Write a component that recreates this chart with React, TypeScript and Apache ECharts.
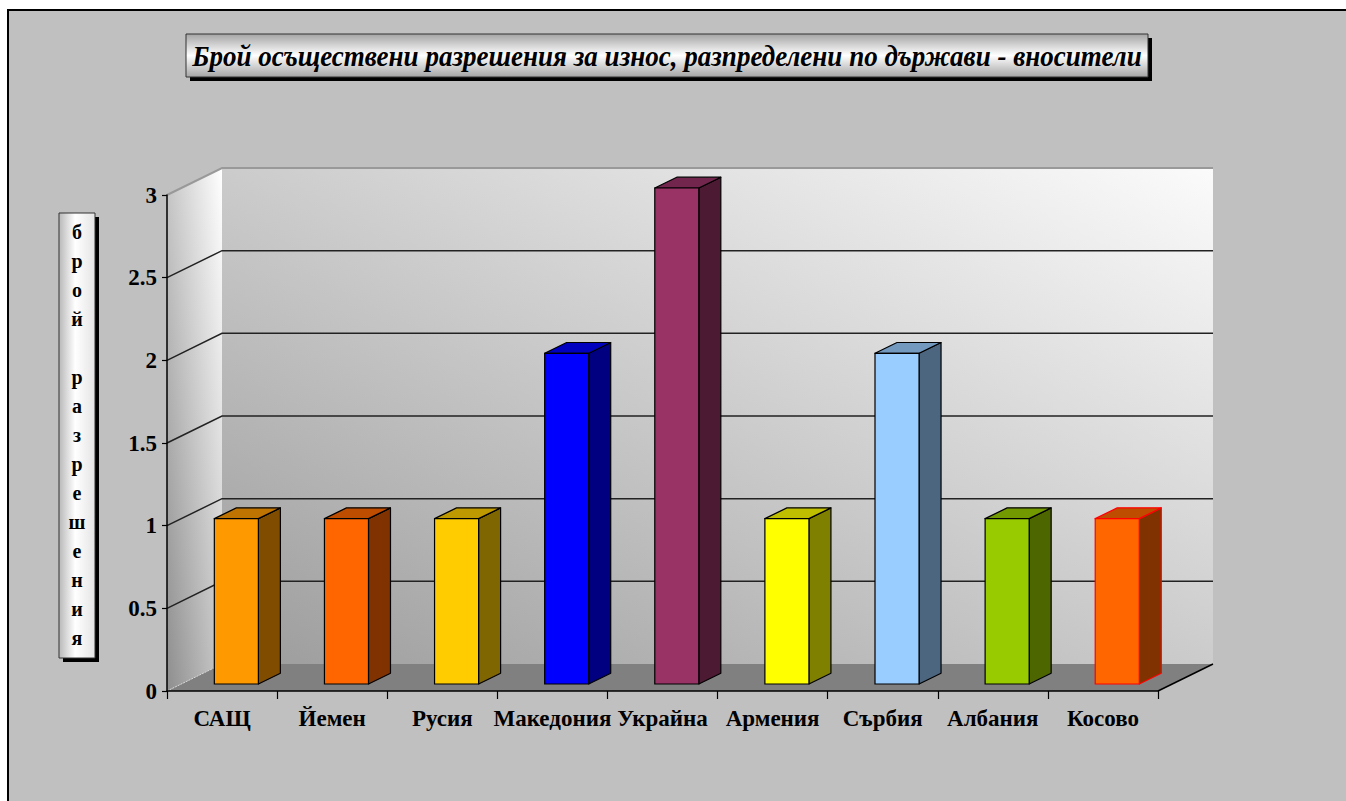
import React, { useEffect, useRef } from 'react';
import * as echarts from 'echarts';

// ---- data ----
const categories = ['САЩ', 'Йемен', 'Русия', 'Македония', 'Украйна', 'Армения', 'Сърбия', 'Албания', 'Косово'];
const values = [1, 1, 1, 2, 3, 1, 2, 1, 1];
const yMin = 0;
const yMax = 3;
const yStep = 0.5;
const yTicks = [0, 0.5, 1, 1.5, 2, 2.5, 3];
const titleText = 'Брой осъществени разрешения за износ, разпределени по държави - вносители';
const axisNameLines = ['б', 'р', 'о', 'й', '', 'р', 'а', 'з', 'р', 'е', 'ш', 'е', 'н', 'и', 'я'];

// ---- styles ----
const faceColors = ['#ff9900', '#ff6600', '#ffcc00', '#0000ff', '#993366', '#ffff00', '#99ccff', '#99cc00', '#ff6600'];
const sideColors = ['#804d00', '#803300', '#806600', '#000080', '#4d1a33', '#808000', '#4d6680', '#4d6600', '#803300'];
const topColors = ['#bf7300', '#bf4d00', '#bf9900', '#0000bf', '#73264d', '#bfbf00', '#7399bf', '#739900', '#bf4d00'];
const edgeColors = ['#000', '#000', '#000', '#000', '#000', '#000', '#000', '#000', '#ff0000'];

const FONT = '"Liberation Serif", "Times New Roman", serif';
const DX = 55;
const DY = -27;
const BAR_FRONT = 0.26;
const BAR_BACK = 0.66;
const BAR_WIDTH = 0.4;

function fitScale(text: string, font: string, target: number) {
  const c = document.createElement('canvas').getContext('2d');
  if (!c) return 1;
  c.font = font;
  const w = c.measureText(text).width;
  return w > 0 ? target / w : 1;
}

export default function App() {
  const ref = useRef<HTMLDivElement>(null);
  useEffect(() => {
    if (!ref.current) return;
    const chart = echarts.init(ref.current, null, { renderer: 'svg' });

    const titleFont = `italic bold 30px ${FONT}`;
    const titleScale = fitScale(titleText, titleFont, 950);

    const wallsRender = (params: any, api: any) => {
      const cs = params.coordSys;
      const x0 = cs.x;
      const x1 = cs.x + cs.width;
      const yT = cs.y;
      const yB = cs.y + cs.height;
      const children: any[] = [];
      children.push({
        type: 'polygon',
        shape: { points: [[x0 + DX, yT + DY], [x1 + DX, yT + DY], [x1 + DX, yB + DY], [x0 + DX, yB + DY]] },
        style: {
          fill: new echarts.graphic.LinearGradient(1, 0, 0, 1, [
            { offset: 0, color: '#fbfbfb' },
            { offset: 1, color: '#9c9c9c' },
          ]),
        },
      });
      children.push({
        type: 'polygon',
        shape: { points: [[x0, yT], [x0 + DX, yT + DY], [x0 + DX, yB + DY], [x0, yB]] },
        style: {
          fill: new echarts.graphic.LinearGradient(1, 0, 0, 1, [
            { offset: 0, color: '#ffffff' },
            { offset: 1, color: '#8e8e8e' },
          ]),
        },
      });
      children.push({
        type: 'polygon',
        shape: { points: [[x0, yB], [x1, yB], [x1 + DX, yB + DY], [x0 + DX, yB + DY]] },
        style: { fill: '#808080' },
      });
      yTicks.forEach((t) => {
        const y = api.coord([0, t])[1];
        if (t === yMin) {
          children.push({
            type: 'line',
            shape: { x1: x0, y1: y, x2: x0 + DX, y2: y + DY },
            style: { stroke: '#d8d8d8', lineWidth: 1, lineDash: [2, 1] },
          });
        } else if (t === yMax) {
          children.push({
            type: 'polyline',
            shape: { points: [[x0, y], [x0 + DX, y + DY], [x1 + DX, y + DY]] },
            style: { stroke: '#999', lineWidth: 2, fill: null },
          });
        } else {
          children.push({
            type: 'polyline',
            shape: { points: [[x0, y], [x0 + DX, y + DY], [x1 + DX, y + DY]] },
            style: { stroke: '#222', lineWidth: 1.5, fill: null },
          });
        }
      });
      children.push({
        type: 'line',
        shape: { x1: x1, y1: yB, x2: x1 + DX, y2: yB + DY },
        style: { stroke: '#000', lineWidth: 1.5 },
      });
      return { type: 'group', children };
    };

    const barRender = (params: any, api: any) => {
      const i = api.value(0);
      const v = api.value(1);
      const p0 = api.coord([i, 0]);
      const p1 = api.coord([i, v]);
      const band = api.size([1, 0])[0];
      const w = band * BAR_WIDTH;
      const fx = DX * BAR_FRONT;
      const fy = DY * BAR_FRONT;
      const dx = DX * (BAR_BACK - BAR_FRONT);
      const dy = DY * (BAR_BACK - BAR_FRONT);
      const left = p0[0] - w / 2 + fx;
      const right = left + w;
      const top = p1[1] + fy;
      const bot = p0[1] + fy;
      const idx = params.dataIndex;
      const stroke = edgeColors[idx];
      return {
        type: 'group',
        children: [
          {
            type: 'polygon',
            shape: { points: [[right, top], [right + dx, top + dy], [right + dx, bot + dy], [right, bot]] },
            style: { fill: sideColors[idx], stroke, lineWidth: 1.2, lineJoin: 'round' },
          },
          {
            type: 'polygon',
            shape: { points: [[left, top], [left + dx, top + dy], [right + dx, top + dy], [right, top]] },
            style: { fill: topColors[idx], stroke, lineWidth: 1.2, lineJoin: 'round' },
          },
          {
            type: 'rect',
            shape: { x: left, y: top, width: w, height: bot - top },
            style: { fill: faceColors[idx], stroke, lineWidth: 1.2 },
          },
        ],
      };
    };

    const nameStep = 29;
    const nameTop0 = 232;

    chart.setOption({
      animation: false,
      backgroundColor: '#ffffff',
      grid: { left: 167, top: 195, width: 991, height: 496, containLabel: false },
      xAxis: {
        type: 'category',
        data: categories,
        boundaryGap: true,
        z: 10,
        axisLine: { show: true, lineStyle: { color: '#000', width: 1.5 } },
        axisTick: { show: true, length: 8, alignWithLabel: false, interval: 0, lineStyle: { color: '#000', width: 1.2 } },
        axisLabel: {
          interval: 0,
          margin: 16,
          color: '#000',
          fontFamily: FONT,
          fontWeight: 'bold',
          fontSize: 23,
        },
        splitLine: { show: false },
      },
      yAxis: {
        type: 'value',
        min: yMin,
        max: yMax,
        interval: yStep,
        z: 10,
        axisLine: { show: true, lineStyle: { color: '#000', width: 1.5 } },
        axisTick: { show: true, length: 5, inside: false, lineStyle: { color: '#000', width: 1.2 } },
        axisLabel: {
          margin: 10,
          color: '#000',
          fontFamily: FONT,
          fontWeight: 'bold',
          fontSize: 23,
        },
        splitLine: { show: false },
      },
      graphic: [
        {
          type: 'rect',
          z: -10,
          shape: { x: 8, y: 10, width: 1500, height: 900 },
          style: { fill: '#c0c0c0', stroke: '#000', lineWidth: 2 },
          silent: true,
        },
        {
          type: 'rect',
          shape: { x: 190, y: 38, width: 962, height: 43 },
          style: { fill: '#000' },
        },
        {
          type: 'rect',
          shape: { x: 186, y: 34, width: 962, height: 43 },
          style: {
            fill: new echarts.graphic.LinearGradient(0, 0, 0, 1, [
              { offset: 0, color: '#a4a4a4' },
              { offset: 0.5, color: '#ffffff' },
              { offset: 1, color: '#a4a4a4' },
            ]),
            stroke: '#333',
            lineWidth: 1,
          },
        },
        {
          type: 'text',
          x: 667,
          y: 56,
          scaleX: titleScale,
          style: {
            text: titleText,
            font: titleFont,
            fill: '#000',
            textAlign: 'center',
            textVerticalAlign: 'middle',
            align: 'center',
            verticalAlign: 'middle',
          },
        },
        {
          type: 'rect',
          shape: { x: 63, y: 217, width: 36, height: 445 },
          style: { fill: '#000' },
        },
        {
          type: 'rect',
          shape: { x: 59, y: 213, width: 36, height: 445 },
          style: {
            fill: new echarts.graphic.LinearGradient(0, 0, 1, 0, [
              { offset: 0, color: '#b8b8b8' },
              { offset: 0.45, color: '#ffffff' },
              { offset: 1, color: '#e4e4e4' },
            ]),
            stroke: '#333',
            lineWidth: 1,
          },
        },
        ...axisNameLines
          .map((ch, k) => ({ ch, k }))
          .filter((l) => l.ch !== '')
          .map((l) => ({
            type: 'text',
            x: 77,
            y: nameTop0 + l.k * nameStep,
            style: {
              text: l.ch,
              font: `bold 20px ${FONT}`,
              fill: '#000',
              textAlign: 'center',
              textVerticalAlign: 'middle',
              align: 'center',
              verticalAlign: 'middle',
            },
          })),
      ],
      series: [
        {
          type: 'custom',
          name: 'walls',
          z: 1,
          silent: true,
          renderItem: wallsRender,
          data: [[0, 0]],
          encode: { x: 0, y: 1 },
          clip: false,
        },
        {
          type: 'custom',
          name: 'bars',
          z: 2,
          renderItem: barRender,
          data: values.map((v, i) => [i, v]),
          encode: { x: 0, y: 1 },
          clip: false,
        },
      ],
    });
    return () => chart.dispose();
  }, []);
  return <div ref={ref} style={{ position: 'absolute', left: 0, top: 0, width: 1346, height: 801 }} />;
}
